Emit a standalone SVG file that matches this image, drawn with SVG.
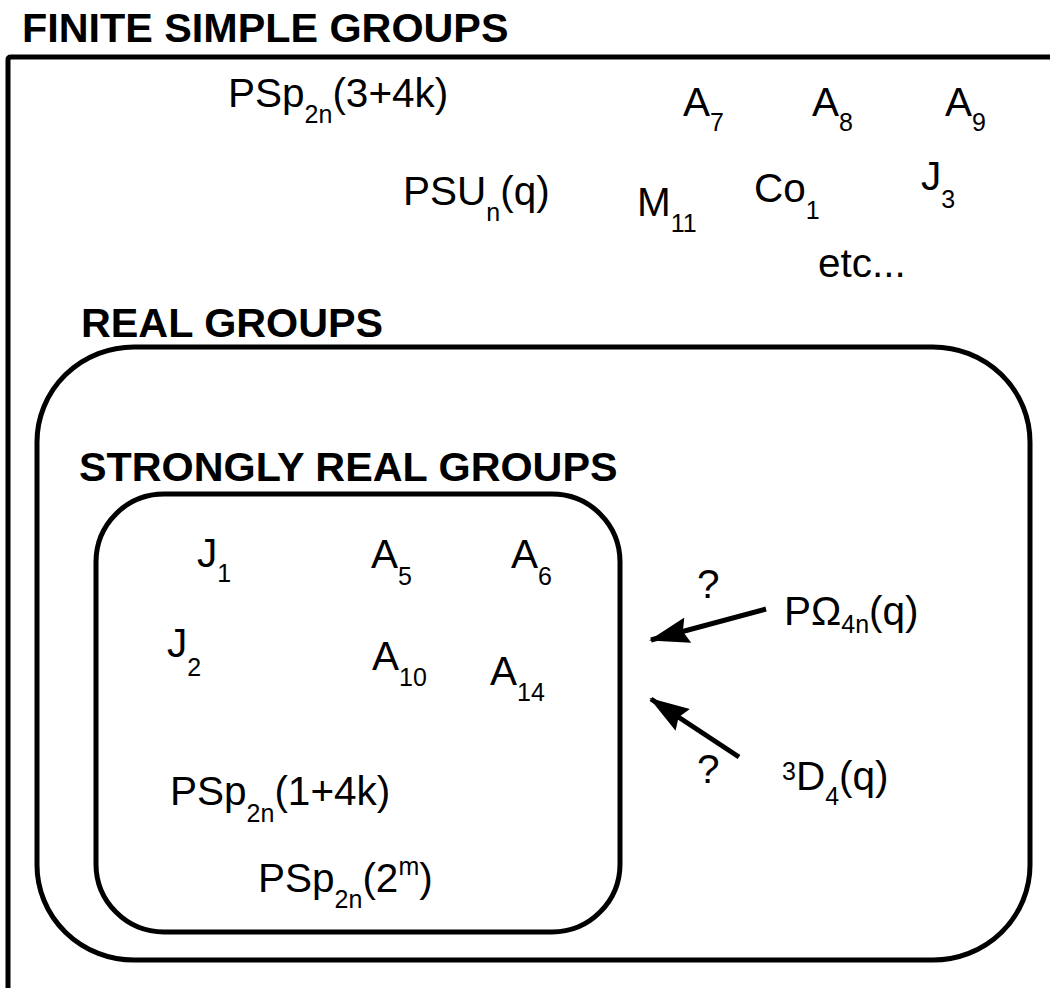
<svg xmlns="http://www.w3.org/2000/svg" width="1050" height="988" viewBox="0 0 1050 988">
  <style>
    text { font-family: "Liberation Sans", Arial, Helvetica, sans-serif; fill: #000; }
    .h { font-size: 41.3px; font-weight: bold; }
    .t { font-size: 40.5px; }
    .s { font-size: 25px; }
    .box { fill: none; stroke: #000; stroke-width: 5; stroke-linejoin: round; }
    .arrow { fill: none; stroke: #000; stroke-width: 5; marker-end: url(#head); }
  </style>
  <defs>
    <marker id="head" viewBox="0 0 40 26" refX="38" refY="13" markerWidth="40" markerHeight="26" markerUnits="userSpaceOnUse" orient="auto">
      <path d="M0,0 L40,13 L0,26 L5,13 z" fill="#000"/>
    </marker>
  </defs>

  <rect width="1050" height="988" fill="#fff"/>

  <!-- Finite simple groups: open frame running off the right and bottom -->
  <g id="finite">
    <path class="box" d="M8,1000 L8,60 Q8,57 11,57 L1060,57"/>
    <text class="h" x="22" y="42">FINITE SIMPLE GROUPS</text>
    <text class="t" x="228" y="107">PSp<tspan class="s" y="123">2n</tspan><tspan y="107">(3+4k)</tspan></text>
    <text class="t" x="683" y="116">A<tspan class="s" y="131">7</tspan></text>
    <text class="t" x="812" y="116">A<tspan class="s" y="131">8</tspan></text>
    <text class="t" x="945" y="116">A<tspan class="s" y="131">9</tspan></text>
    <text class="t" x="403" y="205">PSU<tspan class="s" y="221">n</tspan><tspan y="205">(q)</tspan></text>
    <text class="t" x="637" y="216">M<tspan class="s" y="232">11</tspan></text>
    <text class="t" x="754" y="202">Co<tspan class="s" y="219">1</tspan></text>
    <text class="t" x="921" y="190">J<tspan class="s" y="208">3</tspan></text>
    <text class="t" x="818" y="277">etc...</text>
  </g>

  <!-- Real groups -->
  <g id="real">
    <rect class="box" x="37" y="347" width="993" height="613" rx="97" ry="95"/>
    <text class="h" x="81" y="337">REAL GROUPS</text>
  </g>

  <!-- Strongly real groups -->
  <g id="strongly-real">
    <rect class="box" x="96" y="494" width="524" height="438" rx="68" ry="68"/>
    <text class="h" x="79" y="481">STRONGLY REAL GROUPS</text>
    <text class="t" x="197" y="567">J<tspan class="s" y="582">1</tspan></text>
    <text class="t" x="371" y="568">A<tspan class="s" y="585">5</tspan></text>
    <text class="t" x="511" y="568">A<tspan class="s" y="585">6</tspan></text>
    <text class="t" x="167" y="657">J<tspan class="s" y="676">2</tspan></text>
    <text class="t" x="372" y="670">A<tspan class="s" y="686">10</tspan></text>
    <text class="t" x="490" y="685">A<tspan class="s" y="701">14</tspan></text>
    <text class="t" x="170" y="805">PSp<tspan class="s" y="822">2n</tspan><tspan y="805">(1+4k)</tspan></text>
    <text class="t" x="258" y="892">PSp<tspan class="s" y="908">2n</tspan><tspan y="892">(2</tspan><tspan class="s" y="875">m</tspan><tspan y="892">)</tspan></text>
  </g>

  <!-- Candidates outside, with open questions -->
  <g id="pomega">
    <text class="t" x="784" y="625">PΩ<tspan class="s" y="633">4n</tspan><tspan y="625">(q)</tspan></text>
    <text class="t" x="697" y="598">?</text>
  </g>
  <g id="d4">
    <text class="t" x="782" y="790"><tspan class="s" y="780">3</tspan><tspan y="790">D</tspan><tspan class="s" y="805">4</tspan><tspan y="790">(q)</tspan></text>
    <text class="t" x="697" y="783">?</text>
  </g>

  <g id="connectors">
    <path class="arrow" d="M766,609 L651,640"/>
    <path class="arrow" d="M739,757 L651,699"/>
  </g>
</svg>
